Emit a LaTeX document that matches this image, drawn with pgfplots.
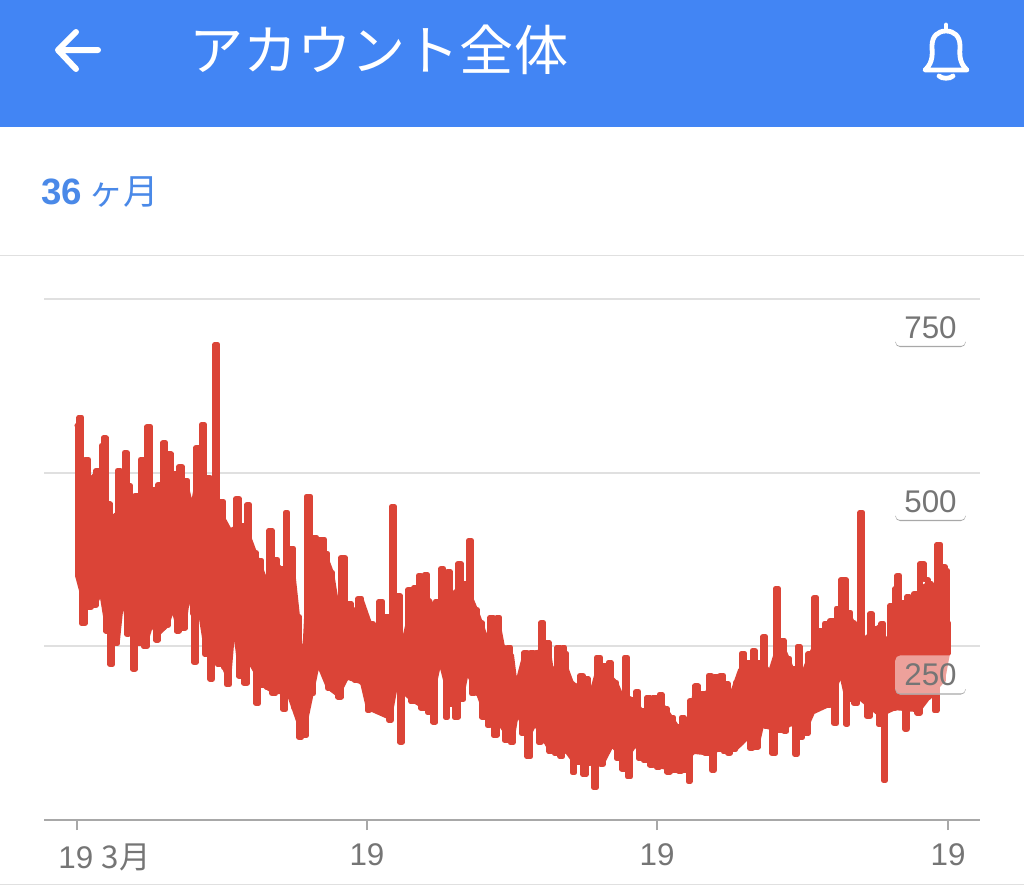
\documentclass[border=0pt]{standalone}
\usepackage{fontspec}
\usepackage{pgfplots}
\pgfplotsset{compat=1.18}
\setmainfont{Liberation Sans}
\newfontfamily\jp{Noto Sans CJK JP}
\definecolor{banner}{HTML}{4285F4}
\definecolor{linkblue}{HTML}{4A89E8}
\definecolor{sessions}{HTML}{DB4437}
\definecolor{gridgray}{HTML}{E0E0E0}
\definecolor{axisgray}{HTML}{A8A8A8}
\definecolor{labelgray}{HTML}{757575}
\tikzset{valuelabel/.style={
    font=\fontsize{23.5}{28}\selectfont,text=labelgray,
    minimum width=53pt,minimum height=29.5pt,inner sep=0pt,
    rounded corners=4pt,fill=white,fill opacity=0.5,text opacity=1,
    path picture={\draw[axisgray,line width=1pt,rounded corners=3pt]
      ([yshift=4pt]path picture bounding box.south west)
      -- ([yshift=0.5pt]path picture bounding box.south west)
      -- ([yshift=0.5pt]path picture bounding box.south east)
      -- ([yshift=4pt]path picture bounding box.south east);}}}
\begin{document}
\begin{tikzpicture}[x=0.75pt,y=-0.75pt]
\fill[white] (0,0) rectangle (1024,885);
% header
\fill[banner] (0,0) rectangle (1024,127);
\draw[white,line width=4.5pt,line cap=round,line join=round] (98,50) -- (59,50) (76,32) -- (58,50) -- (76,69);
\node[white,anchor=west,inner sep=0pt] at (189,50) {\jp\fontsize{40.6}{48}\selectfont アカウント全体};
\draw[white,line width=3.6pt,line join=round,line cap=round]
  (925,70) .. controls (934,62) and (932,52) .. (932,46) .. controls (932,36) and (938,31) .. (946,31)
  .. controls (954,31) and (960,36) .. (960,46) .. controls (960,52) and (958,62) .. (967,70) -- cycle;
\draw[white,line width=3.6pt,line cap=round] (946,25) -- (946,30);
\draw[white,line width=3.6pt,line cap=round] (939,76) .. controls (942,79) and (950,79) .. (953,76);
\node[linkblue,anchor=west,inner sep=0pt] at (41,192) {\fontsize{27.5}{32}\selectfont\bfseries 36};
\node[linkblue,anchor=west,inner sep=0pt] at (88,192) {\jp\fontsize{26.5}{30}\selectfont ヶ月};
\fill[gridgray] (0,254.5) rectangle (1024,256);
\fill[gridgray] (0,883.5) rectangle (1024,885);
\coordinate (plotcorner) at (44,820);
\begin{axis}[
  at={(plotcorner)},anchor=south west,
  scale only axis,width=702pt,height=390.75pt,
  xmin=-33,xmax=903,ymin=0,ymax=750,
  axis x line*=bottom,axis y line*=right,
  y axis line style={draw=none},
  x axis line style={draw=axisgray,line width=1.6pt},
  xtick={0,290,580,871},
  xticklabels={\makebox[0pt][l]{\kern-14pt 19 \jp 3月},19,19,19},
  xtick align=outside,
  major tick length=7.5pt,
  xtick style={draw=axisgray,line width=1.2pt},
  x tick label style={font=\fontsize{23.5}{28}\selectfont,text=labelgray,yshift=-7pt},
  ytick={250,500,750},
  yticklabels={,,},
  ytick style={draw=none},
  ymajorgrids,
  grid style={gridgray,line width=1.5pt},
]
% solid core of the band: upper edge left to right, lower edge right to left
\addplot[draw=sessions,line width=3pt,line join=round,fill=sessions] coordinates {
(0,532)(13,491)(23,503)(28,460)(35,435)(43,445)(55,448)(68,474)(78,476)(83,483)
(98,499)(109,486)(115,448)(120,489)(131,489)(136,450)(145,438)(153,417)(163,424)(168,424)
(178,385)(188,348)(201,366)(206,359)(215,374)(221,293)(226,205)(233,402)(243,402)(255,356)
(260,312)(271,312)(277,300)(285,316)(293,283)(299,244)(308,293)(320,293)(326,254)(338,330)
(353,316)(359,295)(368,302)(376,326)(388,341)(399,303)(404,284)(409,263)(421,287)(426,249)
(435,237)(439,191)(448,241)(460,241)(471,251)(476,205)(483,244)(495,197)(514,182)(522,223)
(539,198)(544,181)(555,174)(565,157)(568,151)(578,177)(588,161)(600,135)(611,125)(618,187)
(626,172)(638,207)(648,194)(653,175)(663,216)(673,223)(687,223)(693,213)(703,259)(715,218)
(726,211)(733,237)(743,266)(755,284)(771,299)(776,284)(788,261)(803,280)(809,220)(812,259)
(823,316)(834,295)(848,338)(856,305)(868,359)(871,284)
(871,240)(866,201)(852,177)(842,158)(818,161)(803,151)(783,175)(770,172)(764,211)(751,165)
(736,155)(725,119)(715,139)(703,129)(690,134)(685,136)(680,105)(670,118)(658,101)(641,101)
(630,96)(617,98)(598,72)(578,79)(558,108)(548,86)(535,108)(525,80)(512,82)(496,86)
(490,98)(473,101)(458,139)(452,122)(440,154)(435,112)(424,136)(412,139)(401,182)(390,214)
(385,177)(374,168)(363,230)(352,158)(336,172)(324,187)(319,194)(313,147)(291,161)(285,198)
(270,205)(261,180)(251,191)(241,226)(235,184)(226,122)(211,184)(197,184)(186,194)(173,227)
(163,213)(157,287)(152,201)(146,223)(141,227)(129,244)(123,299)(116,299)(112,330)(107,276)
(101,276)(96,306)(90,280)(80,266)(75,284)(68,251)(62,256)(51,273)(46,328)(41,259)
(30,276)(24,329)(18,309)(8,309)(0,352)
} -- cycle;
\addplot[sessions,const plot mark mid,line width=3.8pt,line join=round,line cap=round] coordinates {
(0,568)(1,352)(3,580)(6,283)(10,519)(13,306)(15,491)(18,309)(20,503)(24,329)
(25,539)(28,550)(30,272)(31,455)(35,224)(36,435)(40,254)(41,503)(46,328)(49,529)
(51,267)(52,481)(55,448)(57,217)(59,467)(62,254)(65,519)(68,250)(72,566)(75,284)
(78,476)(80,259)(82,483)(85,276)(87,543)(90,280)(92,527)(96,306)(98,499)(101,272)
(103,509)(107,276)(109,489)(112,330)(115,448)(116,297)(118,227)(120,536)(123,297)(126,569)
(129,239)(131,493)(135,203)(136,450)(140,685)(141,224)(146,458)(147,220)(152,195)(153,417)
(157,287)(161,463)(163,207)(166,424)(168,197)(172,454)(173,227)(178,385)(180,168)(183,374)
(186,194)(188,348)(191,191)(193,417)(197,182)(200,375)(201,187)(205,362)(207,159)(210,443)
(211,182)(215,391)(218,162)(221,293)(223,119)(226,205)(227,122)(232,466)(235,182)(238,407)
(241,226)(245,404)(250,384)(251,190)(255,356)(256,190)(260,312)(262,177)(266,378)(270,205)
(271,312)(277,300)(278,201)(284,319)(285,198)(290,283)(291,158)(294,283)(298,161)(299,244)
(305,315)(306,158)(310,293)(313,144)(316,451)(319,194)(322,323)(324,112)(326,254)(330,187)
(332,332)(336,170)(338,335)(341,184)(342,352)(346,161)(349,353)(352,155)(355,295)(357,141)
(360,315)(363,230)(365,362)(368,302)(369,148)(372,358)(374,167)(376,326)(379,148)(383,369)
(385,174)(388,341)(390,214)(393,402)(396,182)(399,303)(401,182)(404,284)(406,148)(409,263)
(412,136)(414,292)(419,122)(421,292)(424,136)(426,249)(429,115)(432,249)(435,111)(437,191)
(440,154)(443,201)(446,125)(448,241)(452,91)(455,241)(458,139)(460,241)(463,112)(465,284)
(468,119)(471,256)(473,98)(476,205)(479,96)(481,249)(485,91)(486,249)(489,240)(490,115)
(495,197)(496,68)(499,190)(502,83)(504,208)(508,65)(510,204)(512,82)(514,182)(516,122)
(517,47)(522,234)(525,80)(527,223)(530,108)(533,227)(535,109)(539,198)(540,89)(544,181)
(546,73)(549,234)(552,62)(555,174)(558,108)(560,185)(563,89)(565,157)(568,86)(572,177)
(574,79)(578,177)(581,76)(584,181)(586,91)(589,161)(591,69)(595,148)(598,72)(600,135)
(603,70)(606,148)(608,72)(611,125)(612,55)(614,172)(617,98)(619,193)(623,112)(623,165)
(626,182)(630,96)(633,208)(636,72)(639,207)(641,102)(645,208)(648,98)(649,197)(653,96)
(653,175)(658,101)(659,198)(664,111)(665,240)(670,118)(671,226)(675,103)(676,244)(680,105)
(682,227)(685,136)(687,264)(690,134)(693,213)(697,96)(700,333)(703,129)(705,259)(709,128)
(710,233)(715,139)(715,218)(720,95)(721,250)(725,119)(726,211)(730,124)(732,239)(736,158)
(738,320)(741,165)(741,273)(743,273)(746,165)(749,283)(751,165)(755,287)(759,139)(760,305)
(764,211)(764,346)(768,346)(770,138)(771,299)(776,284)(778,168)(783,175)(783,443)(788,261)
(792,149)(794,297)(796,170)(800,276)(803,138)(805,283)(808,57)(809,220)(812,261)(814,309)
(818,161)(818,333)(822,352)(823,162)(826,313)(830,131)(830,322)(834,295)(836,165)(838,326)
(842,154)(844,369)(850,346)(852,177)(852,341)(856,305)(859,157)(861,397)(866,201)(866,365)
(870,359)(871,240)(871,284)
};
\end{axis}
% value labels sit over the line, so they come after the axis
\node[valuelabel] at (930.5,327.5) {750};
\node[valuelabel] at (930.5,501.5) {500};
\node[valuelabel] at (930.5,675) {250};
\end{tikzpicture}
\end{document}
